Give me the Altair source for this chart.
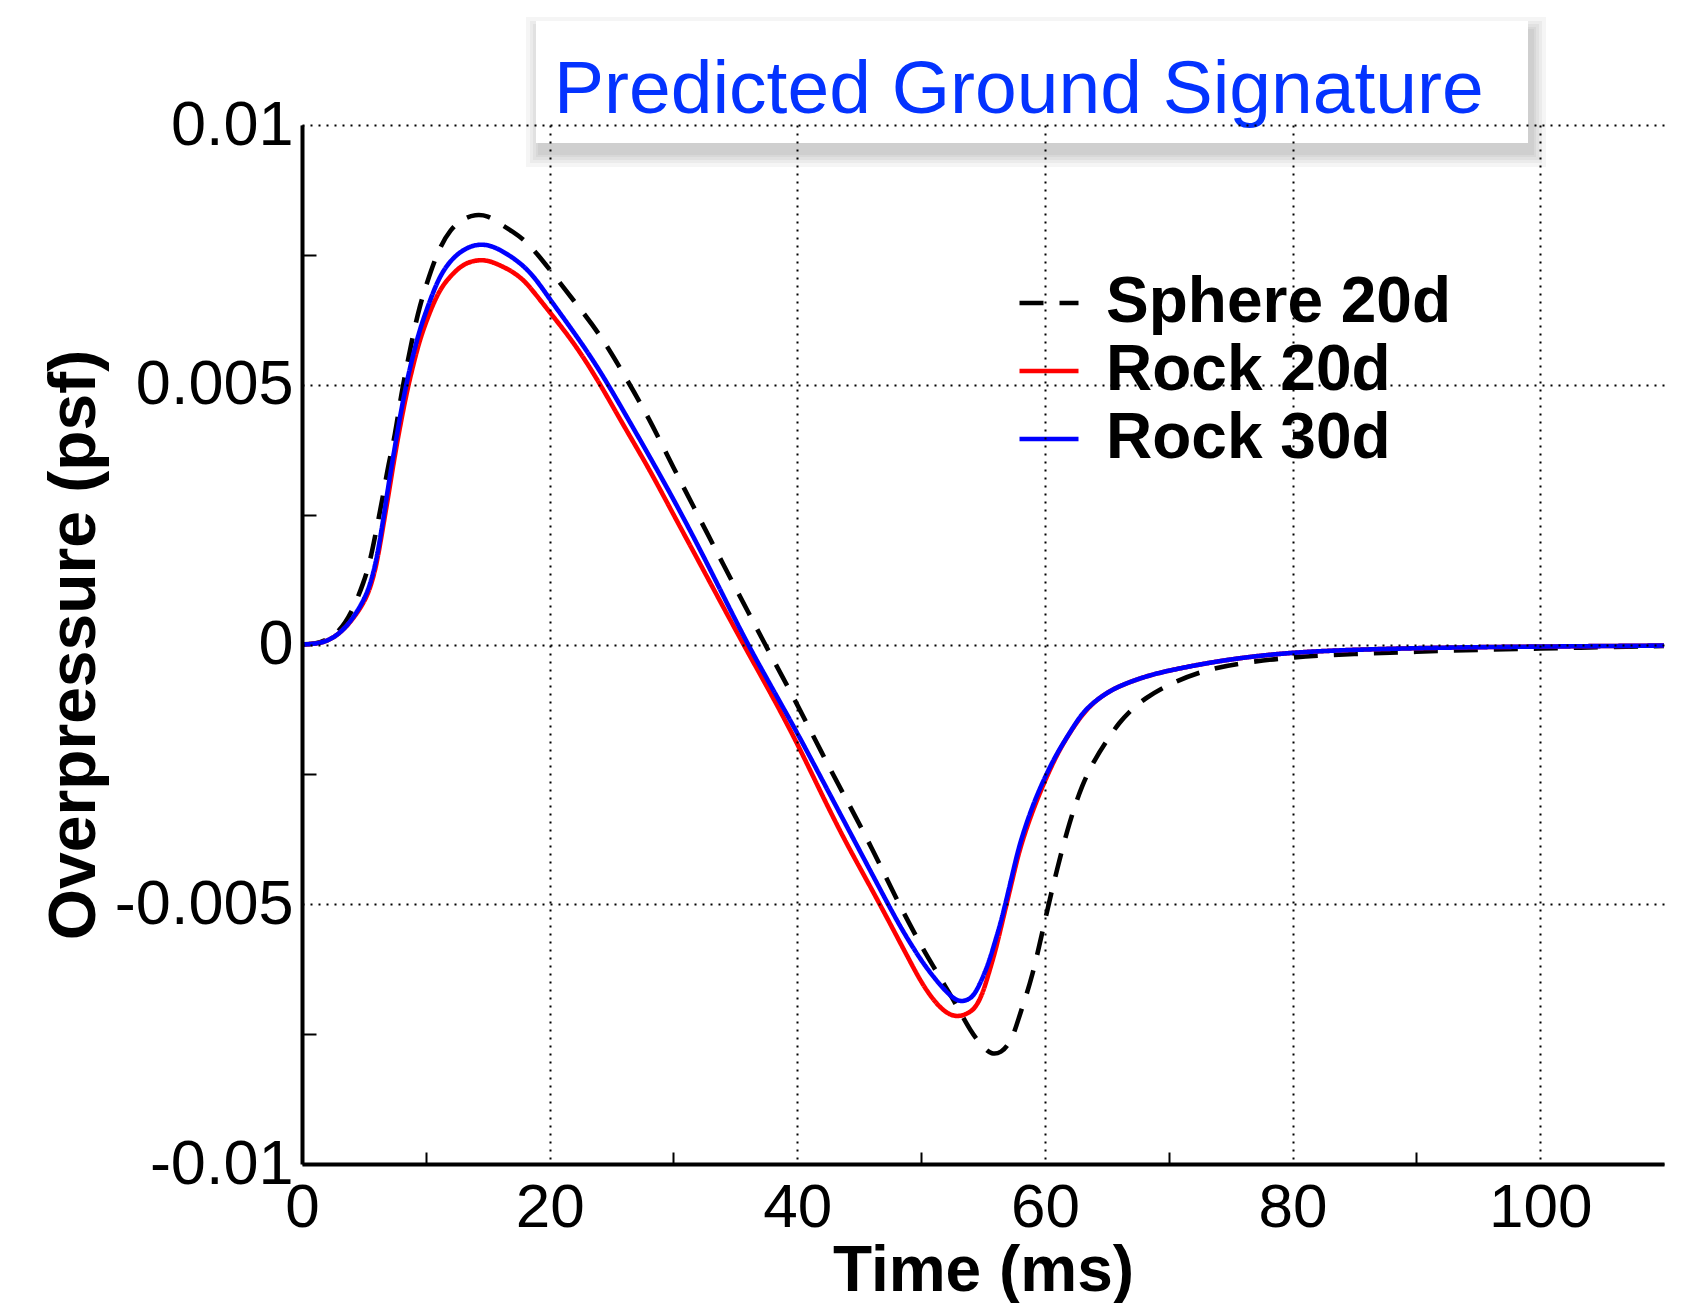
import altair as alt
import pandas as pd

# ---------------- data ----------------
names = ["Sphere 20d", "Rock 20d", "Rock 30d"]
colors = ["#000000", "#ff0000", "#0000ff"]
dashes = [[24, 16], [1, 0], [1, 0]]

sphere_t = [0, 1, 2, 3, 4, 5, 5.5, 6, 6.5, 7, 7.5, 8, 8.5, 9, 9.5, 10,
            11, 12, 13, 14, 15, 16, 17, 18, 19, 20,
            22, 24, 26, 28, 30, 32, 34, 36, 38, 40, 42, 44, 46, 48, 50,
            51, 52, 53, 54, 55, 55.7, 56.5, 57, 57.5, 58,
            59, 60, 61, 62, 63, 64, 65, 66, 67, 68,
            70, 73, 76, 80, 85, 90, 95, 100, 105, 110]
sphere_v = [0, 0.00001, 0.00008, 0.00025, 0.0006, 0.0012,
            0.0016, 0.0022, 0.0028, 0.0035, 0.0040, 0.0048, 0.0054, 0.0060, 0.0065, 0.0069,
            0.0076, 0.0080, 0.0082, 0.00828, 0.00826, 0.0081, 0.00795, 0.00778, 0.00752, 0.00722,
            0.0066, 0.0060, 0.0052, 0.00437, 0.0034, 0.00248, 0.00155, 0.00064, -0.00027,
            -0.00115, -0.0021, -0.0030, -0.0039, -0.0049, -0.0058,
            -0.0062, -0.0066, -0.0070, -0.00745, -0.00775,
            -0.0079, -0.00785, -0.00772, -0.0075, -0.0071,
            -0.0064, -0.0053, -0.0043, -0.0034, -0.0027, -0.00222, -0.00185, -0.0015, -0.00125, -0.00105,
            -0.00076, -0.00048, -0.00035, -0.00024, -0.00018, -0.00014, -0.0001, -0.00008, -0.00005, -0.00003]

rock_t = [0, 1, 2, 3, 4, 5, 5.5, 6, 6.5, 7, 7.5, 8, 8.5, 9, 9.5, 10,
          11, 12, 13, 14, 15, 16, 17, 18, 19, 20,
          22, 24, 26, 28, 30, 32, 34, 36, 38, 40, 42, 44, 46, 48,
          49, 50, 51, 52, 53, 54,
          54.5, 55, 55.5, 56, 56.5, 57, 57.5, 58,
          59, 60, 61, 62, 63, 64, 65, 66,
          68, 70, 73, 76, 80, 85, 90, 95, 100, 105, 110]
rock20_v = [0, 0.00001, 0.00006, 0.0002, 0.00045, 0.0008,
            0.00108, 0.0015, 0.0022, 0.0029, 0.00365, 0.0043, 0.0049, 0.0054, 0.00585, 0.0062,
            0.0068, 0.0071, 0.00732, 0.0074, 0.0074, 0.0073, 0.00718, 0.0070, 0.0067, 0.0064,
            0.0058, 0.00505, 0.0042, 0.0034, 0.0025, 0.00162, 0.00073, -0.00015, -0.0010,
            -0.0019, -0.0029, -0.00385, -0.0047, -0.0056,
            -0.00605, -0.0065, -0.00685, -0.0071, -0.00718, -0.00708,
            -0.00695, -0.0067, -0.0063, -0.0059, -0.0054, -0.0049, -0.0044, -0.0039,
            -0.0032, -0.00262, -0.0021, -0.0017, -0.00135, -0.0011, -0.00093, -0.0008,
            -0.00062, -0.0005, -0.00036, -0.00025, -0.00015, -0.0001, -0.00007, -0.00005,
            -0.00004, -0.00003, -0.00002]
rock30_v = [0, 0.00001, 0.00006, 0.0002, 0.00046, 0.00085,
            0.00115, 0.0016, 0.0023, 0.0031, 0.0038, 0.0045, 0.0051, 0.0056, 0.00605, 0.0064,
            0.00705, 0.0074, 0.0076, 0.0077, 0.0077, 0.0076, 0.00745, 0.00727, 0.0070, 0.00665,
            0.0060, 0.0053, 0.00448, 0.00365, 0.0028, 0.0019, 0.00095, 0.0, -0.00085,
            -0.0017, -0.0026, -0.0035, -0.0044, -0.0053,
            -0.0057, -0.00608, -0.0064, -0.00668, -0.0069, -0.00683,
            -0.00666, -0.0064, -0.0061, -0.0057, -0.0053, -0.0048, -0.0043, -0.0038,
            -0.0031, -0.00255, -0.00208, -0.0017, -0.00132, -0.0011, -0.00093, -0.0008,
            -0.00062, -0.0005, -0.00036, -0.00025, -0.00015, -0.0001, -0.00007, -0.00005,
            -0.00004, -0.00003, -0.00002]

x_label_vals = [0, 20, 40, 60, 80, 100]
x_minor_vals = [10, 30, 50, 70, 90]
y_label_vals = [-0.01, -0.005, 0, 0.005, 0.01]
y_minor_vals = [-0.0075, -0.0025, 0.0025, 0.0075]

title_text = "Predicted Ground Signature"
x_title = "Time (ms)"
y_title = "Overpressure (psf)"

df = pd.concat([
    pd.DataFrame({"series": names[0], "t": sphere_t, "v": sphere_v}),
    pd.DataFrame({"series": names[1], "t": rock_t, "v": rock20_v}),
    pd.DataFrame({"series": names[2], "t": rock_t, "v": rock30_v}),
], ignore_index=True)

# ---------------- styling ----------------
FONT = "Liberation Sans"
W, H = 1362, 1039

xs = alt.Scale(domain=[0, 110], nice=False, zero=False)
ys = alt.Scale(domain=[-0.01, 0.01], nice=False, zero=False)

legend_def = dict(
    title=None, orient="none", legendX=703, legendY=134,
    fillColor="white", padding=12,
    symbolType="stroke", symbolSize=3481, symbolStrokeWidth=4.5,
    labelFont=FONT, labelFontWeight="bold", labelFontSize=64, labelColor="black",
    labelOffset=25, rowPadding=4, labelLimit=800,
)

x_axis = alt.Axis(
    values=x_label_vals, format="d",
    grid=True, gridColor="black", gridDash=[2, 6], gridWidth=2,
    ticks=False, tickSize=0,
    domainColor="black", domainWidth=4,
    labelFont=FONT, labelFontSize=62, labelColor="black", labelPadding=13,
    labelFlush=False, labelOverlap=False,
    title=x_title, titleFont=FONT, titleFontSize=64, titleFontWeight="bold",
    titleColor="black", titlePadding=1, zindex=1,
)
y_axis = alt.Axis(
    values=y_label_vals, labelExpr="datum.value + ''",
    grid=True, gridColor="black", gridDash=[2, 6], gridWidth=2,
    ticks=False, tickSize=0,
    domainColor="black", domainWidth=4,
    labelFont=FONT, labelFontSize=63, labelColor="black", labelPadding=9,
    labelFlush=False, labelOverlap=False,
    title=y_title, titleFont=FONT, titleFontSize=66, titleFontWeight="bold",
    titleColor="black", titlePadding=6, zindex=1,
)

lines = alt.Chart(df).mark_line(strokeWidth=4.6, interpolate="basis").encode(
    x=alt.X("t:Q", scale=xs, axis=x_axis),
    y=alt.Y("v:Q", scale=ys, axis=y_axis),
    color=alt.Color("series:N", scale=alt.Scale(domain=names, range=colors),
                    legend=alt.Legend(**legend_def)),
    strokeDash=alt.StrokeDash("series:N", scale=alt.Scale(domain=names, range=dashes),
                              legend=alt.Legend(**legend_def)),
)

# inward-pointing minor ticks (secondary axes moved onto the main ones)
ticks = alt.Chart(df).mark_point(opacity=0).encode(
    x=alt.X("t:Q", scale=xs, axis=alt.Axis(
        orient="top", offset=-H, values=x_minor_vals, labels=False, domain=False,
        grid=False, tickSize=12, tickWidth=2, tickColor="black", title=None)),
    y=alt.Y("v:Q", scale=ys, axis=alt.Axis(
        orient="right", offset=-W, values=y_minor_vals, labels=False, domain=False,
        grid=False, tickSize=14, tickWidth=2, tickColor="black", title=None)),
)

one = pd.DataFrame({"k": [0]})
bx1, bx2, by1, by2 = 234, 1226, -104, 18
shadows = []
for s in [14, 10, 7, 4, 2]:
    shadows.append(
        alt.Chart(one).mark_rect(fill="black", opacity=0.04).encode(
            x=alt.value(bx1 + 4 - s), x2=alt.value(bx2 + 4 + s),
            y=alt.value(by1 + 10 - s), y2=alt.value(by2 + 10 + s),
        )
    )
box = alt.Chart(one).mark_rect(fill="white").encode(
    x=alt.value(bx1), x2=alt.value(bx2), y=alt.value(by1), y2=alt.value(by2)
)
title_mark = alt.Chart(one).mark_text(
    text=title_text, align="left", baseline="alphabetic",
    font=FONT, fontSize=75, color="#0433ff",
).encode(x=alt.value(252), y=alt.value(-12))

chart = alt.layer(*shadows, box, title_mark, lines, ticks).resolve_axis(
    x="independent", y="independent"
).properties(
    width=W, height=H,
    padding={"left": 294, "top": 117, "right": 15, "bottom": 139},
    autosize=alt.AutoSizeParams(type="none"),
).configure_view(stroke=None)

chart.save("out.html", embed_options={"renderer": "svg", "actions": False})
